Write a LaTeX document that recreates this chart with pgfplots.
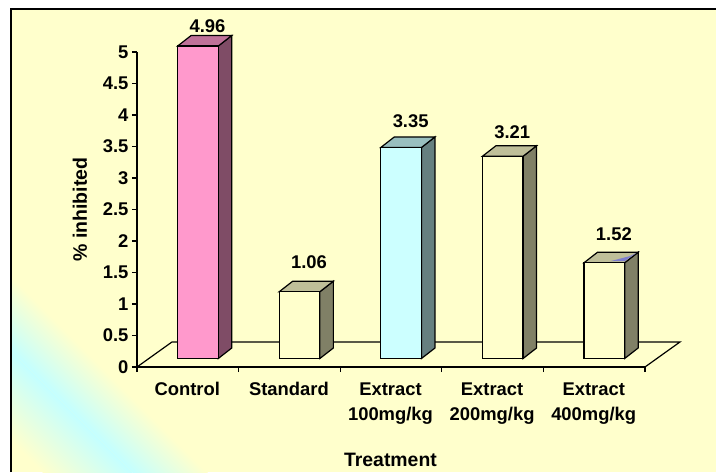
\documentclass[border=0pt]{standalone}
\usepackage{fontspec}
\setmainfont{Liberation Sans}
\usepackage{pgfplots}
\pgfplotsset{compat=1.18}

\definecolor{bgyellow}{HTML}{FFFFCC}
\definecolor{bgcyan}{HTML}{C4FFFF}
\definecolor{pinkf}{HTML}{FF99CC}
\definecolor{pinks}{HTML}{7F4C66}
\definecolor{pinkt}{HTML}{BF7299}
\definecolor{yelf}{HTML}{FFFFCC}
\definecolor{yels}{HTML}{808066}
\definecolor{yelt}{HTML}{BFBF99}
\definecolor{cyaf}{HTML}{CCFFFF}
\definecolor{cyas}{HTML}{668080}
\definecolor{cyat}{HTML}{99BFBF}

\pgfplotsset{
  face/.style={draw=black, line width=1.2pt, line join=miter},
  % #1 fill, #2 extra lift of the value label
  front/.style 2 args={ybar, bar width=0.4, bar shift=0pt, yshift=8.5pt, draw=black, line width=1.2pt, fill=#1,
    nodes near coords, point meta=y,
    every node near coord/.append style={font=\fontsize{18.4}{20}\selectfont\bfseries, text=black,
      xshift=9.5pt, yshift=#2, /pgf/number format/fixed, /pgf/number format/fixed zerofill,
      /pgf/number format/precision=2, /pgf/number format/assume math mode=true}},
}

\begin{document}
\begin{tikzpicture}[x=1pt,y=1pt]
\path[use as bounding box] (0,0) rectangle (716,472);
\fill[white] (0,0) rectangle (716,472);
\begin{scope}
  \clip (11,0) rectangle (716,463);
  \fill[bgyellow] (0,0) rectangle (716,472);
  \begin{scope}[transform canvas={rotate=45}]
    \shade[left color=bgyellow, right color=bgcyan] (29.7,-600) rectangle (93.3,900);
    \shade[left color=bgcyan, right color=bgyellow] (93.2,-600) rectangle (146.4,900);
  \end{scope}
\end{scope}
\draw[black, line width=2.4pt] (11,0) -- (11,463) -- (716,463);

\begin{axis}[
    at={(137pt,105pt)}, anchor=south west,
    scale only axis, width=508pt, height=315pt,
    xmin=0, xmax=5, ymin=0, ymax=5,
    clip=false,
    axis x line*=bottom, axis y line*=left,
    axis line style={line width=1.2pt, -},
    every tick/.style={black, line width=1.2pt},
    tick align=outside,
    major tick length=5pt,
    font=\fontsize{18.4}{25.6}\selectfont\bfseries,
    /pgf/number format/assume math mode=true,
    xtick={0,1,2,3,4,5},
    xticklabels={Control,Standard,{Extract\\100mg/kg},{Extract\\200mg/kg},{Extract\\400mg/kg},{}},
    x tick label style={align=center, anchor=north, xshift=50.3pt, yshift=-7pt},
    ytick={0,0.5,1,1.5,2,2.5,3,3.5,4,4.5,5},
    yticklabels={0,0.5,1,1.5,2,2.5,3,3.5,4,4.5,5},
    y tick label style={anchor=east},
    xlabel={Treatment},
    ylabel={\% inhibited},
    xlabel style={at={(axis description cs:0.499,0)}, anchor=center, yshift=-93pt, font=\fontsize{19.4}{22}\selectfont\bfseries},
    ylabel style={at={(axis description cs:0,0.5)}, anchor=center, rotate=0, yshift=57pt, font=\fontsize{19.5}{22}\selectfont\bfseries},
]
% floor
\addplot[black, line width=1.2pt] coordinates {(0,0) (0.344,0.397) (5.344,0.397) (5,0)};

% Control
\addplot[face, fill=pinks] coordinates {(0.8,0.135) (0.933,0.302) (0.933,5.262) (0.8,5.095)} -- cycle;
\addplot[face, fill=pinkt] coordinates {(0.4,5.095) (0.533,5.262) (0.933,5.262) (0.8,5.095)} -- cycle;
\addplot[front={pinkf}{9pt}] coordinates {(0.6,4.96)};

% Standard
\addplot[face, fill=yels] coordinates {(1.8,0.135) (1.933,0.302) (1.933,1.362) (1.8,1.195)} -- cycle;
\addplot[face, fill=yelt] coordinates {(1.4,1.195) (1.533,1.362) (1.933,1.362) (1.8,1.195)} -- cycle;
\addplot[front={yelf}{19pt}] coordinates {(1.6,1.06)};

% Extract 100
\addplot[face, fill=cyas] coordinates {(2.8,0.135) (2.933,0.302) (2.933,3.652) (2.8,3.485)} -- cycle;
\addplot[face, fill=cyat] coordinates {(2.4,3.485) (2.533,3.652) (2.933,3.652) (2.8,3.485)} -- cycle;
\addplot[front={cyaf}{16pt}] coordinates {(2.6,3.35)};

% Extract 200
\addplot[face, fill=yels] coordinates {(3.8,0.135) (3.933,0.302) (3.933,3.512) (3.8,3.345)} -- cycle;
\addplot[face, fill=yelt] coordinates {(3.4,3.345) (3.533,3.512) (3.933,3.512) (3.8,3.345)} -- cycle;
\addplot[front={yelf}{14pt}] coordinates {(3.6,3.21)};

% Extract 400
\addplot[face, fill=yels] coordinates {(4.8,0.135) (4.933,0.302) (4.933,1.822) (4.8,1.655)} -- cycle;
\addplot[face, fill=yelt] coordinates {(4.4,1.655) (4.533,1.822) (4.933,1.822) (4.8,1.655)} -- cycle;
\addplot[draw=none, fill=blue!45!gray!70] coordinates {(4.66,1.68) (4.8,1.68) (4.915,1.81) (4.85,1.76)} -- cycle;
\addplot[front={yelf}{18pt}] coordinates {(4.6,1.52)};
\end{axis}
\end{tikzpicture}
\end{document}
